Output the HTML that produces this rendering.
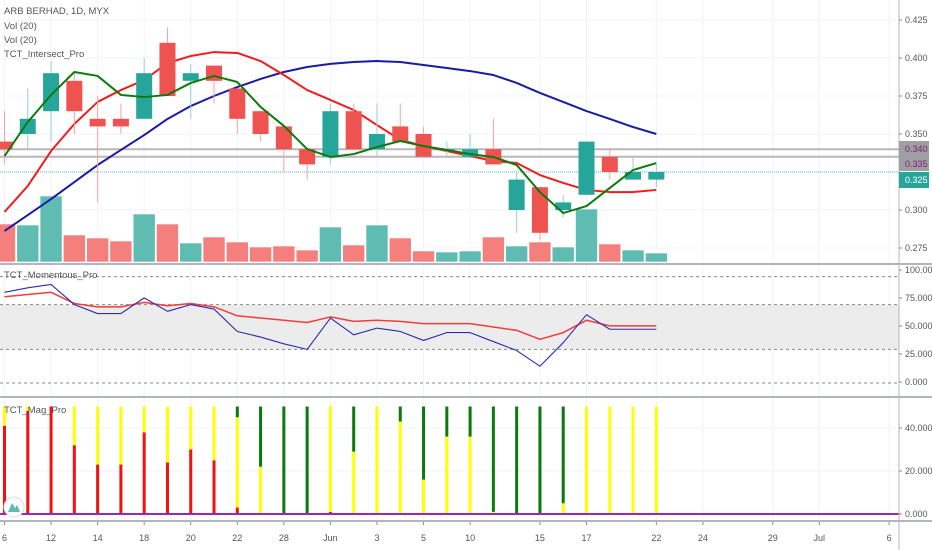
<!DOCTYPE html>
<html><head><meta charset="utf-8"><style>
body{margin:0;background:#fff;font-family:"Liberation Sans",sans-serif;}
svg{display:block}
</style></head><body>
<svg id="c" width="932" height="550" xmlns="http://www.w3.org/2000/svg" font-family="Liberation Sans, sans-serif"></svg>
<script>
const opens  =[0.345,0.350,0.365,0.385,0.360,0.360,0.360,0.410,0.385,0.395,0.380,0.365,0.355,0.340,0.335,0.365,0.340,0.355,0.350,0.340,0.335,0.340,0.300,0.315,0.300,0.310,0.335,0.320,0.320];
const closes =[0.340,0.360,0.390,0.365,0.355,0.355,0.390,0.375,0.390,0.385,0.360,0.350,0.340,0.330,0.365,0.340,0.350,0.345,0.335,0.340,0.340,0.330,0.320,0.285,0.305,0.345,0.325,0.325,0.325];
const highs  =[0.365,0.380,0.398,0.390,0.375,0.370,0.400,0.420,0.396,0.395,0.380,0.365,0.355,0.340,0.370,0.370,0.370,0.370,0.355,0.345,0.350,0.360,0.325,0.315,0.310,0.345,0.340,0.335,0.330];
const lows   =[0.330,0.340,0.345,0.350,0.305,0.350,0.360,0.375,0.360,0.370,0.350,0.345,0.325,0.320,0.330,0.340,0.335,0.345,0.335,0.335,0.335,0.330,0.285,0.280,0.295,0.310,0.320,0.320,0.315];
const volumes=[38,37,66,27,24,21,48,38,19,25,20,15,16,12,35,17,37,24,11,10,11,25,16,20,15,53,18,12,9];
const greenLine=[0.3355,0.3579,0.3757,0.3908,0.3882,0.3757,0.3743,0.3757,0.3836,0.3882,0.3842,0.3678,0.3553,0.3401,0.3349,0.3368,0.3414,0.3454,0.3421,0.3395,0.3368,0.3349,0.3296,0.3118,0.2980,0.3026,0.3145,0.3263,0.3309];
const redMA=[0.2987,0.3158,0.3388,0.3566,0.3711,0.3789,0.3855,0.3967,0.4013,0.4039,0.4033,0.3980,0.3888,0.3789,0.3724,0.3658,0.3559,0.3461,0.3421,0.3388,0.3355,0.3322,0.3309,0.3230,0.3178,0.3132,0.3118,0.3118,0.3132];
const blueMA=[0.2862,0.2967,0.3072,0.3184,0.3296,0.3395,0.3493,0.3599,0.3684,0.3750,0.3809,0.3862,0.3908,0.3941,0.3961,0.3974,0.3980,0.3974,0.3954,0.3934,0.3914,0.3888,0.3836,0.3770,0.3711,0.3651,0.3599,0.3546,0.3500];
const momBlue=[81,85,88,70,62,62,76,64,70,66,46,41,35,30,58,43,49,46,38,45,45,37,29,15,36,61,48,48,48];
const momRed=[77,79,81,71,68,68,72,69,71,68,60,58,56,54,59,55,56,55,53,53,53,50,47,39,45,56,51,51,51];
const magSeg=[[['r',41],['y',50]],[['r',48],['y',50]],[['r',50]],[['r',32],['y',50]],[['r',23],['y',50]],[['r',23],['y',50]],[['r',38],['y',50]],[['r',24],['y',50]],[['r',30],['y',50]],[['r',25],['y',50]],[['r',3],['y',45],['g',50]],[['y',22],['g',50]],[['g',50]],[['g',50]],[['r',1],['y',50]],[['y',29],['g',50]],[['y',50]],[['y',43],['g',50]],[['y',16],['g',50]],[['y',36],['g',50]],[['y',36],['g',50]],[['y',1],['g',50]],[['g',50]],[['g',50]],[['y',5],['g',50]],[['y',50]],[['y',50]],[['y',50]],[['y',50]]];
const priceTicks=[0.425,0.400,0.375,0.350,0.300,0.275];
const momTicks=[100,75,50,25,0];
const magTicks=[40,20,0];
const dateLabels=["6","12","14","18","20","22","28","Jun","3","5","10","15","17","22","24","29","Jul","6"];
const dateSlots=[0,2,4,6,8,10,12,14,16,18,20,23,25,28,30,33,35,38];

const NS="http://www.w3.org/2000/svg";
const svg=document.getElementById('c');
function el(t,a,p){const e=document.createElementNS(NS,t);for(const k in a)e.setAttribute(k,a[k]);(p||svg).appendChild(e);return e;}
const xi=i=>4.5+i*23.28;
const py=p=>210-(p-0.3)*1520;
const my=v=>383-v*1.12;
const gy=v=>514-v*2.15;
const UP='#26a69a',DN='#ef5350';
const grid=el('g',{});
dateSlots.forEach(s=>{el('line',{x1:xi(s),x2:xi(s),y1:0,y2:521,stroke:'#f0f3fa','stroke-width':1},grid);});
priceTicks.concat([0.325]).forEach(p=>el('line',{x1:0,x2:899,y1:py(p),y2:py(p),stroke:'#f0f3fa'},grid));
[40,20].forEach(v=>el('line',{x1:0,x2:899,y1:gy(v),y2:gy(v),stroke:'#f0f3fa'},grid));
volumes.forEach((v,i)=>{const r=el('rect',{x:xi(i)-11,y:262-v,width:22,height:v,fill:closes[i]>=opens[i]?'#5fbcb2':'#f47f7d',stroke:'#fff','stroke-width':0.6});
});
el('line',{x1:0,x2:899,y1:py(0.340),y2:py(0.340),stroke:'#b8b8bc','stroke-width':2});
el('line',{x1:0,x2:899,y1:py(0.335),y2:py(0.335),stroke:'#b8b8bc','stroke-width':2});
el('line',{x1:0,x2:899,y1:py(0.325),y2:py(0.325),stroke:'#8fd3cb','stroke-width':1.5,'stroke-dasharray':'1 1'});
function line(arr,f,col,w,name){const l=el('polyline',{points:arr.map((v,i)=>xi(i)+','+f(v)).join(' '),fill:'none',stroke:col,'stroke-width':w,'stroke-linejoin':'round'});return l;}
line(blueMA,py,'#1a1aa6',2,'blue-ma-line');
line(redMA,py,'#f21c1c',2,'red-ma-line');
opens.forEach((o,i)=>{const c=closes[i],col=c>=o?UP:DN,g=el('g',{});

el('line',{x1:xi(i),x2:xi(i),y1:py(highs[i]),y2:py(lows[i]),stroke:c>=o?'#8fd3cb':'#f5a3a1','stroke-width':1},g);
const t=py(Math.max(o,c)),b=py(Math.min(o,c));
el('rect',{x:xi(i)-8,y:t,width:16,height:Math.max(1,b-t),fill:col},g);});
line(greenLine,py,'#0e7a0e',2,'green-line');
el('rect',{x:0,y:my(70),width:899,height:my(30)-my(70),fill:'#ececec'});
[95,70,30,0].forEach(v=>el('line',{x1:0,x2:899,y1:my(v),y2:my(v),stroke:'#888','stroke-dasharray':'3 3','stroke-width':1}));
line(momRed,my,'#f23c3c',1.5,'momentum-red-line');
line(momBlue,my,'#2b2bb0',1.1,'momentum-blue-line');
magSeg.forEach((segs,i)=>{let prev=0;segs.forEach(s=>{const col=s[0]=='r'?'#f21010':s[0]=='y'?'#ffff00':'#0b7a0b';
const r=el('rect',{x:xi(i)-1.5,y:gy(s[1]),width:3,height:gy(prev)-gy(s[1]),fill:col});
prev=s[1];});});
el('line',{x1:0,x2:899,y1:gy(0),y2:gy(0),stroke:'#9c27b0','stroke-width':2});
[264,397,521].forEach(y=>el('line',{x1:0,x2:932,y1:y,y2:y,stroke:'#b2b5be','stroke-width':2}));
el('line',{x1:899,x2:899,y1:0,y2:550,stroke:'#b2b5be','stroke-width':1});
function txt(x,y,s,o){const t=el('text',Object.assign({x:x,y:y,'font-size':9,fill:'#555'},o||{}));t.textContent=s;return t;}
priceTicks.forEach(p=>{el('line',{x1:899,x2:902,y1:py(p),y2:py(p),stroke:'#888'});txt(905,py(p)+3,p.toFixed(3));});
momTicks.forEach(v=>{el('line',{x1:899,x2:902,y1:my(v)-1,y2:my(v)-1,stroke:'#888'});txt(905,my(v)+2,v.toFixed(3));});
magTicks.forEach(v=>{el('line',{x1:899,x2:902,y1:gy(v),y2:gy(v),stroke:'#888'});txt(905,gy(v)+3,v.toFixed(3));});
const pb=el('rect',{x:899,y:141,width:30,height:30,fill:'#9e9ea3'});
txt(905,152,'0.340',{fill:'#7a1f7a'});txt(905,167,'0.335',{fill:'#7a1f7a'});
const tb=el('rect',{x:899,y:172,width:30,height:16,fill:UP});
txt(905,183,'0.325',{fill:'#fff'});
dateLabels.forEach((d,k)=>{const x=xi(dateSlots[k]);el('line',{x1:x,x2:x,y1:522,y2:525,stroke:'#888'});const t=txt(x,541,d,{'text-anchor':'middle'});});
[['ARB BERHAD, 1D, MYX',14],['Vol (20)',29],['Vol (20)',43],['TCT_Intersect_Pro',57],['TCT_Momentous_Pro',278],['TCT_Mag_Pro',413]].forEach(a=>{const t=txt(4,a[1],a[0],{'font-size':9.5});});
const logo=el('circle',{cx:14,cy:507,r:10,fill:'#fff',stroke:'#ddd'});
el('path',{d:'M8 512 L12 503 L15 508 L17 505 L20 512 Z',fill:'#5cbcb0'});
</script>
</body></html>
